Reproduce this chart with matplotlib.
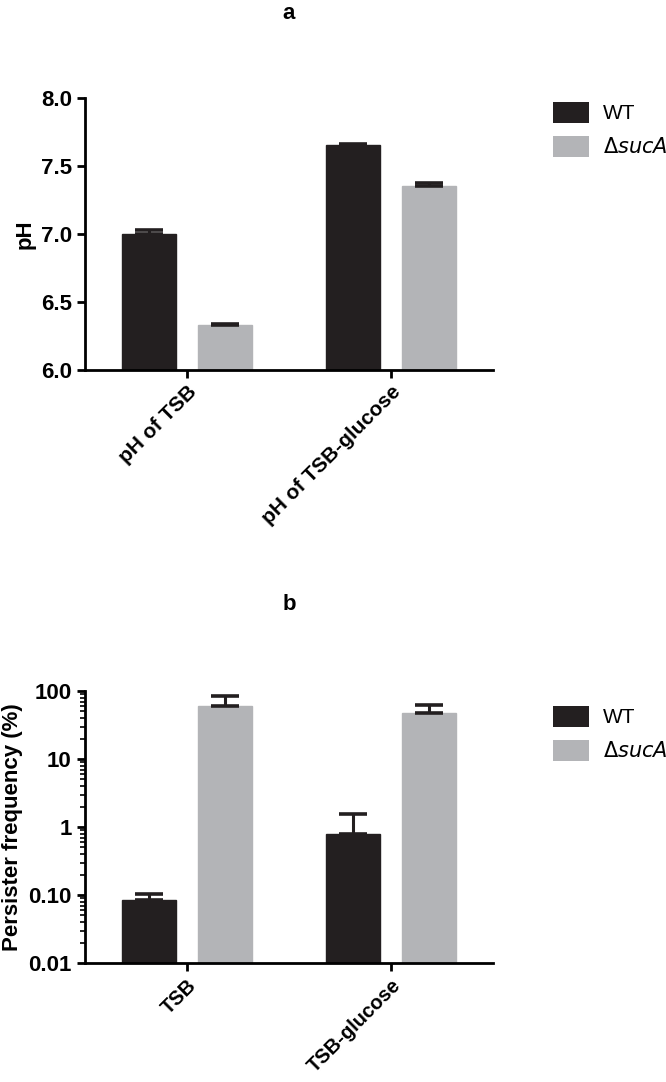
import numpy as np
import matplotlib.pyplot as plt
from matplotlib.patches import Patch
from matplotlib.ticker import FixedLocator, FixedFormatter, LogLocator, NullFormatter

plt.rcParams['font.family'] = ['Liberation Sans', 'DejaVu Sans']

# panel a: pH
ph_groups = ['pH of TSB', 'pH of TSB-glucose']
ph_wt = [7.00, 7.655]
ph_wt_err = [0.03, 0.01]
ph_suca = [6.33, 7.355]
ph_suca_err = [0.01, 0.022]

# panel b: persister frequency (%)
pf_groups = ['TSB', 'TSB-glucose']
pf_wt = [0.085, 0.80]
pf_wt_err = [0.018, 0.75]
pf_suca = [60.0, 47.0]
pf_suca_err = [25.0, 15.0]

series_labels = ['WT', r'$\Delta\mathit{sucA}$']
wt_color = '#231f20'
suca_color = '#b3b4b7'

W, H = 666, 1082
fig = plt.figure(figsize=(W / 100, H / 100), dpi=100)


def px_axes(left, right, top, bottom):
    return fig.add_axes([left / W, 1 - bottom / H, (right - left) / W, (bottom - top) / H])


def draw_panel(ax, groups, wt, wt_err, suca, suca_err, log=False, xfs=15):
    x = np.arange(len(groups))
    off, bw = 0.187, 0.268
    base = 0.01 if log else 6.0
    for vals, errs, col, sgn in [(wt, wt_err, wt_color, -1), (suca, suca_err, suca_color, 1)]:
        vals = np.array(vals)
        ax.bar(x + sgn * off, vals - base, bw, bottom=base, color=col, edgecolor=col, zorder=2)
        ax.errorbar(x + sgn * off, vals, yerr=[np.zeros(len(vals)), errs], fmt='none',
                    ecolor=wt_color, elinewidth=2.2, capsize=10, capthick=2.6, zorder=3)
    ax.set_xlim(-0.5, 1.5)
    ax.set_xticks(x)
    ax.set_xticklabels(groups, rotation=45, ha='right', rotation_mode='anchor',
                       fontsize=xfs, fontweight='bold')
    for s in ['top', 'right']:
        ax.spines[s].set_visible(False)
    for s in ['left', 'bottom']:
        ax.spines[s].set_linewidth(2.0)
    ax.tick_params(axis='both', which='major', width=2.0, length=6, labelsize=16)
    ax.tick_params(axis='x', pad=3, labelsize=xfs)
    for lab in ax.get_yticklabels():
        lab.set_fontweight('bold')
    handles = [Patch(facecolor=wt_color), Patch(facecolor=suca_color)]
    return handles


# ---- panel a ----
ax1 = px_axes(85, 493, 98, 370)
h = draw_panel(ax1, ph_groups, ph_wt, ph_wt_err, ph_suca, ph_suca_err)
ax1.set_ylim(6.0, 8.0)
ax1.set_yticks([6.0, 6.5, 7.0, 7.5, 8.0])
ax1.set_yticklabels(['6.0', '6.5', '7.0', '7.5', '8.0'], fontweight='bold', fontsize=16)
ax1.set_ylabel('pH', fontsize=16, fontweight='bold', labelpad=4)
ax1.set_title('a', fontsize=16, fontweight='bold', pad=57)
ax1.legend(h, series_labels, loc='upper left', bbox_to_anchor=(1.147, 0.985),
           frameon=False, fontsize=15, borderpad=0, borderaxespad=0,
           handlelength=1.75, handleheight=1.15, labelspacing=0.6, handletextpad=0.65)

# ---- panel b ----
ax2 = px_axes(85, 493, 691, 963)
ax2.set_yscale('log')
h = draw_panel(ax2, pf_groups, pf_wt, pf_wt_err, pf_suca, pf_suca_err, log=True, xfs=14.5)
ax2.set_ylim(0.01, 100)
ax2.yaxis.set_major_locator(FixedLocator([0.01, 0.1, 1, 10, 100]))
ax2.yaxis.set_major_formatter(FixedFormatter(['0.01', '0.10', '1', '10', '100']))
ax2.yaxis.set_minor_locator(LogLocator(base=10, subs=np.arange(2, 10)))
ax2.yaxis.set_minor_formatter(NullFormatter())
ax2.tick_params(axis='y', which='minor', width=1.2, length=3.5)
for lab in ax2.get_yticklabels():
    lab.set_fontweight('bold')
    lab.set_fontsize(16)
ax2.set_ylabel('Persister frequency (%)', fontsize=16, fontweight='bold', labelpad=4)
ax2.set_title('b', fontsize=16, fontweight='bold', pad=58)
ax2.legend(h, series_labels, loc='upper left', bbox_to_anchor=(1.147, 0.945),
           frameon=False, fontsize=15, borderpad=0, borderaxespad=0,
           handlelength=1.75, handleheight=1.15, labelspacing=0.6, handletextpad=0.65)

fig.savefig('out.png', dpi=100)
